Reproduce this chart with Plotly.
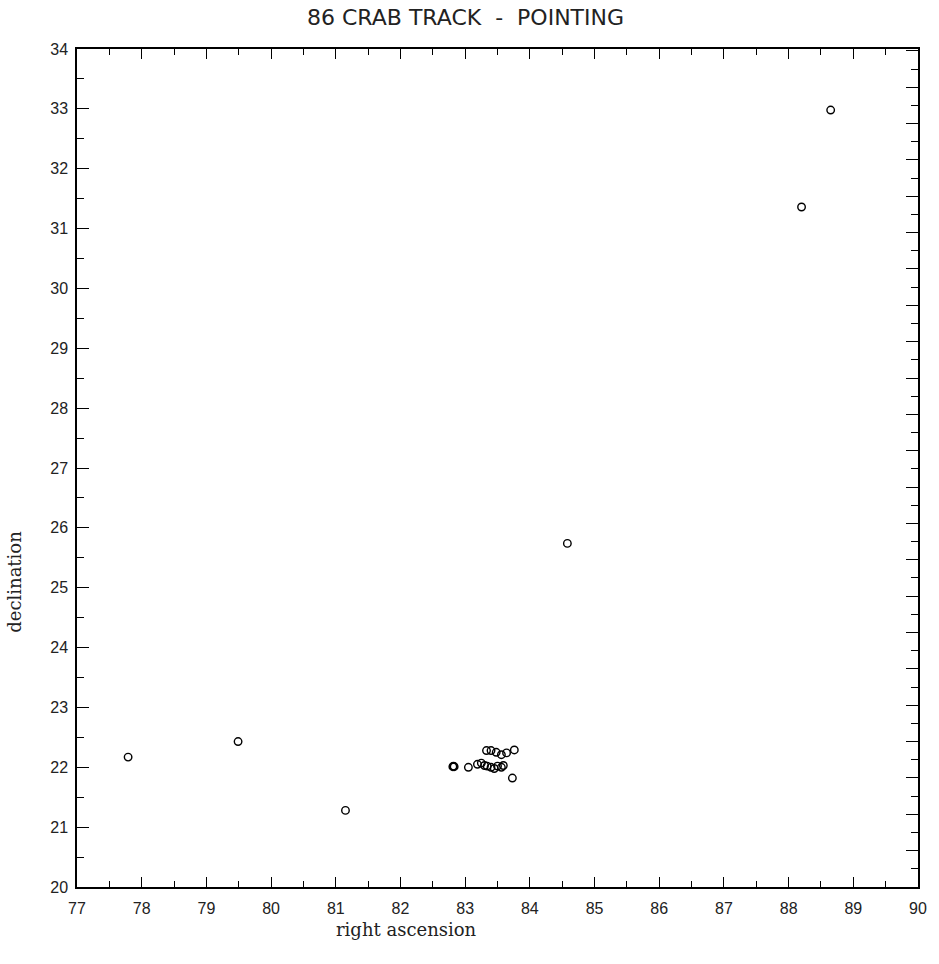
import plotly.graph_objects as go

# Pointing positions (right ascension, declination)
ra = [88.65, 88.20, 84.58, 77.79, 79.49, 81.15,
      82.81, 82.82, 82.83, 83.05,
      83.19, 83.25, 83.30, 83.34, 83.40, 83.45, 83.50, 83.56, 83.59,
      83.33, 83.40, 83.48, 83.56, 83.64, 83.76,
      83.73]
dec = [32.98, 31.36, 25.74, 22.17, 22.43, 21.28,
       22.01, 22.02, 22.01, 22.00,
       22.05, 22.07, 22.03, 22.02, 22.00, 21.98, 22.02, 22.00, 22.03,
       22.28, 22.28, 22.25, 22.21, 22.24, 22.29,
       21.82]

title_text = "86 CRAB TRACK  -  POINTING"
x_title = "right ascension"
y_title = "declination"
x_range = [77, 90]
y_range = [20, 34]

fig = go.Figure()
fig.add_trace(go.Scatter(
    x=ra, y=dec, mode="markers",
    marker=dict(symbol="circle-open", size=7.5, color="black",
                line=dict(width=1.4, color="black")),
    showlegend=False, hoverinfo="skip"))
# invisible trace to activate the top and right axes
fig.add_trace(go.Scatter(x=[None], y=[None], yaxis="y2", xaxis="x2",
                         showlegend=False, hoverinfo="skip"))

tickfont = dict(family="Liberation Sans", size=16, color="#222")

fig.update_layout(
    width=939, height=964,
    margin=dict(l=77, r=18, t=49, b=77),
    paper_bgcolor="white", plot_bgcolor="white",
    xaxis=dict(range=x_range, dtick=1, tick0=77, showgrid=False, zeroline=False,
               showline=True, linecolor="black", linewidth=1.5,
               ticks="inside", ticklen=10, tickwidth=1, tickcolor="black",
               minor=dict(dtick=0.5, ticks="inside", ticklen=6, tickcolor="black", showgrid=False),
               tickfont=tickfont, ticklabelstandoff=6),
    xaxis2=dict(range=x_range, dtick=1, tick0=77, overlaying="x", side="top",
                showgrid=False, zeroline=False, showticklabels=False,
                showline=True, linecolor="black", linewidth=1.5,
                ticks="inside", ticklen=10, tickwidth=1, tickcolor="black",
                minor=dict(dtick=0.5, ticks="inside", ticklen=6, tickcolor="black", showgrid=False)),
    yaxis=dict(range=y_range, dtick=1, tick0=20, showgrid=False, zeroline=False,
               showline=True, linecolor="black", linewidth=1.5,
               ticks="inside", ticklen=12, tickwidth=1, tickcolor="black",
               minor=dict(dtick=0.5, ticks="inside", ticklen=7, tickcolor="black", showgrid=False),
               tickfont=tickfont, ticklabelstandoff=4),
    yaxis2=dict(range=[0, 23.05], dtick=1, tick0=0, overlaying="y", side="right",
                showgrid=False, zeroline=False, showticklabels=False,
                showline=True, linecolor="black", linewidth=1.5,
                ticks="inside", ticklen=12, tickwidth=1, tickcolor="black",
                minor=dict(dtick=0.5, ticks="inside", ticklen=7, tickcolor="black", showgrid=False)),
    annotations=[
        dict(text=title_text, xref="paper", yref="paper", x=0.462, y=1.037,
             showarrow=False, font=dict(family="DejaVu Sans", size=22, color="#222"),
             xanchor="center", yanchor="middle"),
        dict(text=x_title, xref="paper", yref="paper", x=0.392, y=-0.051,
             showarrow=False, font=dict(family="DejaVu Serif", size=18, color="#222"),
             xanchor="center", yanchor="middle"),
        dict(text=y_title, xref="paper", yref="paper", x=-0.074, y=0.364,
             showarrow=False, textangle=-90,
             font=dict(family="DejaVu Serif", size=18, color="#222"),
             xanchor="center", yanchor="middle"),
    ],
)

fig.write_html("out.html")
